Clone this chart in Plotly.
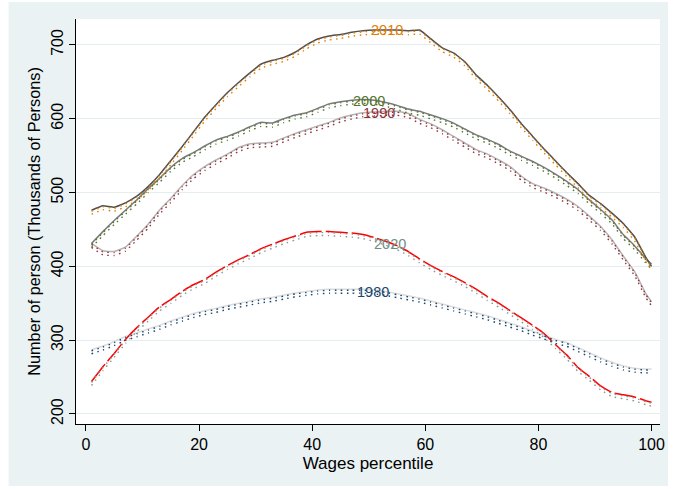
import plotly.graph_objects as go

# Wage percentiles at which the employment counts are read
pct = [1, 3, 5, 7, 9, 11, 13, 15, 17, 19, 21, 23, 25, 27, 29, 31, 33, 35, 37, 39,
       41, 43, 45, 47, 49, 51, 53, 55, 57, 59, 61, 63, 65, 67, 69, 71, 73, 75, 77, 79,
       81, 83, 85, 87, 89, 91, 93, 95, 97, 99, 100]

# Number of persons (thousands) by wage percentile, per census year
y1980 = [287, 292, 298, 305, 310, 315, 320, 326, 331, 336, 340, 343, 347, 350, 353, 356, 358, 361, 364, 366,
         368, 369, 369, 369, 369, 368, 366, 363, 360, 357, 353, 349, 345, 341, 337, 333, 328, 323, 318, 312,
         307, 301, 297, 290, 283, 276, 270, 265, 262, 261, 261]
y1990 = [431, 421, 420, 426, 441, 457, 476, 492, 509, 524, 535, 544, 552, 561, 566, 567, 568, 574, 580, 585,
         590, 595, 601, 605, 608, 609, 610, 610, 607, 599, 593, 585, 576, 567, 558, 552, 544, 535, 522, 512,
         506, 499, 491, 481, 468, 454, 436, 414, 393, 363, 352]
y2000 = [431, 447, 462, 476, 490, 505, 519, 534, 546, 554, 563, 571, 576, 582, 589, 595, 594, 600, 605, 608,
         614, 620, 623, 625, 626, 625, 622, 618, 613, 610, 605, 600, 594, 586, 578, 572, 565, 556, 549, 542,
         534, 525, 515, 504, 490, 477, 463, 443, 428, 410, 403]
y2010 = [476, 482, 480, 486, 495, 508, 524, 543, 562, 582, 602, 619, 635, 649, 662, 674, 679, 683, 690, 700,
         708, 712, 714, 717, 719, 720, 720, 720, 719, 720, 708, 696, 689, 677, 659, 645, 629, 612, 593, 576,
         559, 543, 527, 512, 496, 485, 472, 458, 440, 412, 400]
y2020 = [244, 264, 282, 301, 317, 331, 345, 355, 366, 375, 382, 392, 401, 409, 416, 424, 430, 436, 441, 446,
         447, 447, 446, 445, 443, 439, 434, 428, 420, 410, 401, 393, 386, 378, 369, 359, 350, 340, 330, 320,
         309, 294, 280, 263, 251, 238, 229, 226, 223, 218, 216]

years = ["1980", "1990", "2000", "2010", "2020"]
series = [y1980, y1990, y2000, y2010, y2020]

# Styling per year: fitted line colour/dash, observed-dot colour, label position
line_col = ["#dcdcdc", "#b4b4b4", "#7a7a7a", "#505050", "#ff0000"]
line_dash = ["solid", "solid", "solid", "solid", "22px,4px"]
dot_col = ["#1a476f", "#90353b", "#55752f", "#e37e00", "#8a9a94"]
lab_col = ["#1a476f", "#90353b", "#55752f", "#e37e00", "#6e8e84"]
lab_x = [50.7, 51.9, 50.0, 53.3, 53.8]
lab_y = [365.5, 608, 624, 720, 430]

FONT = "Liberation Sans, Arial, sans-serif"
Y_LO, Y_HI = 186.4, 735.0

fig = go.Figure()

for i, yr in enumerate(years):
    fig.add_trace(go.Scatter(
        x=pct, y=series[i], mode="lines", name=yr, showlegend=False,
        line=dict(color=line_col[i], width=1.5, dash=line_dash[i], shape="spline", smoothing=0.3),
        hoverinfo="skip",
    ))

# Dotted observed series, drawn twice with a slight downward offset
for ax in ("y2", "y3"):
    for i, yr in enumerate(years):
        fig.add_trace(go.Scatter(
            x=pct, y=series[i], mode="lines", yaxis=ax, showlegend=False,
            line=dict(color=dot_col[i], width=1.4, dash="1.5px,4.5px", shape="spline", smoothing=0.3),
            hoverinfo="skip",
        ))

for i, yr in enumerate(years):
    fig.add_annotation(x=lab_x[i], y=lab_y[i], text=yr, showarrow=False,
                       font=dict(family=FONT, size=14.5, color=lab_col[i]))

# Outer bluish-gray frame and white plot region
fig.add_shape(type="rect", xref="paper", yref="paper", x0=-0.1154, x1=1.0136, y0=-0.153, y1=1.042,
              fillcolor="#eaf2f3", line=dict(width=0), layer="below")
fig.add_shape(type="rect", xref="paper", yref="paper", x0=0, x1=1, y0=0, y1=1,
              fillcolor="white", line=dict(width=0), layer="below")

fig.update_layout(
    width=674, height=489,
    margin=dict(l=76, r=9, t=19, b=65),
    paper_bgcolor="white", plot_bgcolor="white",
    font=dict(family=FONT, color="black"),
    xaxis=dict(
        range=[-1.75, 101.5], tickvals=[0, 20, 40, 60, 80, 100],
        ticks="outside", ticklen=6, tickcolor="black", showgrid=False, zeroline=False,
        showline=True, linecolor="black", linewidth=1,
        tickfont=dict(size=16), title=dict(text="Wages percentile", font=dict(size=17), standoff=4),
    ),
    yaxis=dict(
        range=[Y_LO, Y_HI], tickvals=[200, 300, 400, 500, 600, 700], tickangle=-90,
        ticks="outside", ticklen=6, tickcolor="black", showgrid=True, gridcolor="#e4eef0", gridwidth=1,
        zeroline=False, showline=True, linecolor="black", linewidth=1,
        tickfont=dict(size=16),
        title=dict(text="Number of person (Thousands of Persons)", font=dict(size=16.3), standoff=3),
    ),
    yaxis2=dict(range=[Y_LO + 1.4, Y_HI + 1.4], overlaying="y", visible=False),
    yaxis3=dict(range=[Y_LO + 5.4, Y_HI + 5.4], overlaying="y", visible=False),
)

fig.write_html("out.html")
